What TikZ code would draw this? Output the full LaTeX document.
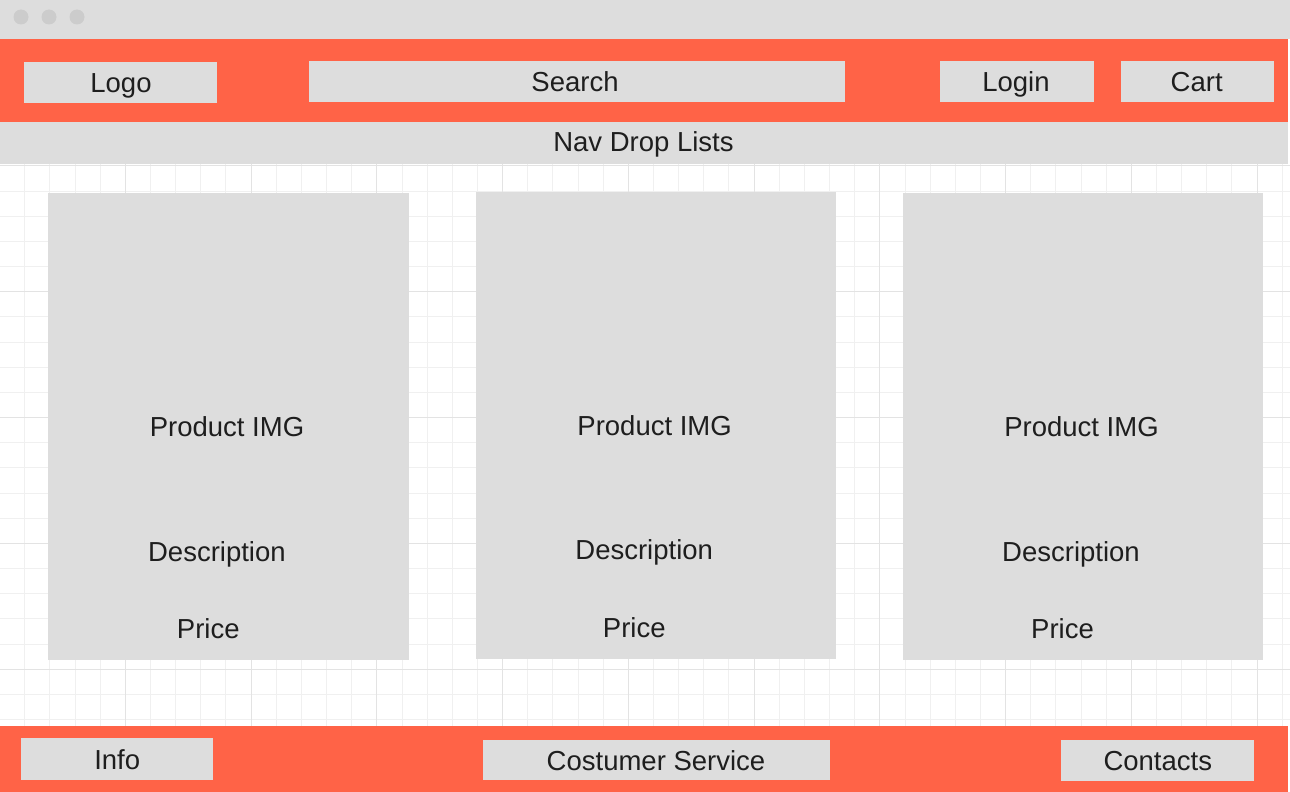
\documentclass[tikz,border=0pt]{standalone}
\usepackage{fontspec}
\setmainfont{Liberation Sans}
\definecolor{tomato}{HTML}{FF6347}
\definecolor{boxgray}{HTML}{DDDDDD}
\definecolor{dotgray}{HTML}{CCCCCC}
\definecolor{gridminor}{HTML}{F0F0F0}
\definecolor{gridmajor}{HTML}{E3E3E3}
\definecolor{txt}{HTML}{1E1E1E}
\begin{document}
\begin{tikzpicture}[x=1pt,y=-1pt,
  panel/.style={fill=boxgray, draw=none, inner sep=0pt, outer sep=0pt},
  band/.style={fill=tomato, draw=none, inner sep=0pt, outer sep=0pt},
  winbtn/.style={circle, fill=dotgray, draw=none, minimum size=15pt, inner sep=0pt},
  lbl/.style={anchor=base, text=txt, inner sep=0pt, font=\fontsize{27.5}{33}\selectfont},
  gminor/.style={draw=gridminor, line width=1pt},
  gmajor/.style={draw=gridmajor, line width=1pt}]
\useasboundingbox (0,0) rectangle (1290,792);
\fill[white] (0,0) rectangle (1290,792);
% grid
\foreach \k in {0,...,51} {
  \draw[gminor] ({-0.4+25.15*\k},164) -- ({-0.4+25.15*\k},726);
}
\foreach \k in {0,...,22} {
  \draw[gminor] (0,{165.85+25.17*\k}) -- (1290,{165.85+25.17*\k});
}
\foreach \k in {0,5,...,50} {
  \draw[gmajor] ({-0.4+25.15*\k},164) -- ({-0.4+25.15*\k},726);
}
\foreach \k in {0,5,...,20} {
  \draw[gmajor] (0,{165.85+25.17*\k}) -- (1290,{165.85+25.17*\k});
}
% title bar
\node[panel, minimum width=1290pt, minimum height=39pt] (titlebar) at (645,19.5) {};
\node[winbtn] (dot1) at (21,17) {};
\node[winbtn] (dot2) at (49,17) {};
\node[winbtn] (dot3) at (77,17) {};
% header
\node[band, minimum width=1288pt, minimum height=83pt] (header) at (644,80.5) {};
\node[panel, minimum width=193pt, minimum height=41pt] (logo) at (120.5,82.5) {};
\node[panel, minimum width=536pt, minimum height=41pt] (search) at (577,81.5) {};
\node[panel, minimum width=154pt, minimum height=41pt] (login) at (1017,81.5) {};
\node[panel, minimum width=153pt, minimum height=41pt] (cart) at (1197.5,81.5) {};
\node[lbl] (logot) at (121,92.3) {Logo};
\node[lbl] (searcht) at (575,91.7) {Search};
\node[lbl] (logint) at (1016,91.3) {Login};
\node[lbl] (cartt) at (1196.7,91) {Cart};
% nav
\node[panel, minimum width=1288pt, minimum height=42pt] (nav) at (644,143) {};
\node[lbl] (navt) at (643.5,151.7) {Nav Drop Lists};
% cards
\node[panel, minimum width=361pt, minimum height=467pt] (card1) at (228.5,426.5) {};
\node[panel, minimum width=360pt, minimum height=467pt] (card2) at (656,425.5) {};
\node[panel, minimum width=360pt, minimum height=467pt] (card3) at (1083,426.5) {};
\node[lbl] (img1) at (227,436) {Product IMG};
\node[lbl] (desc1) at (216.9,561.3) {Description};
\node[lbl] (price1) at (208.3,638.7) {Price};
\node[lbl] (img2) at (654.6,435) {Product IMG};
\node[lbl] (desc2) at (644.2,559.3) {Description};
\node[lbl] (price2) at (634.3,637.7) {Price};
\node[lbl] (img3) at (1081.5,436) {Product IMG};
\node[lbl] (desc3) at (1071,561.3) {Description};
\node[lbl] (price3) at (1062.5,638.7) {Price};
% footer
\node[band, minimum width=1288pt, minimum height=66pt] (footer) at (644,759) {};
\node[panel, minimum width=192pt, minimum height=42pt] (info) at (117,759) {};
\node[panel, minimum width=347pt, minimum height=40pt] (service) at (656.5,760) {};
\node[panel, minimum width=193pt, minimum height=41pt] (contacts) at (1157.5,760.5) {};
\node[lbl] (infot) at (117.2,769.3) {Info};
\node[lbl] (servicet) at (656,770) {Costumer Service};
\node[lbl] (contactst) at (1157.8,770) {Contacts};
\end{tikzpicture}
\end{document}
